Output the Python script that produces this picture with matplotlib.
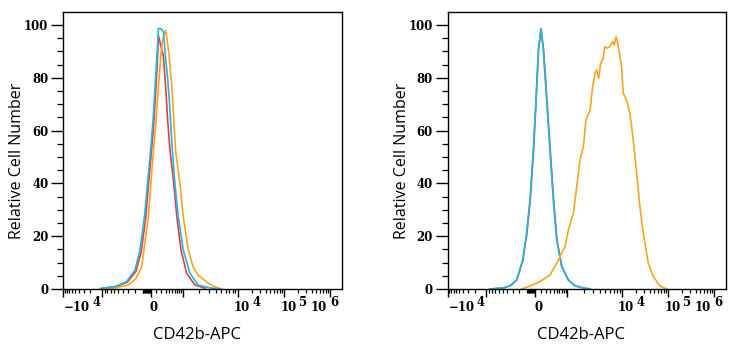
import matplotlib
matplotlib.use('Agg')
import matplotlib.pyplot as plt
import numpy as np

# histogram traces, x in display channels (0-1000 on the biexponential axis), y in % of max
left_red_x = [143, 190, 231, 262, 280, 296, 306, 317, 326, 333, 339, 342, 351, 360, 368, 375, 384, 397, 408, 423, 443, 473, 509]
left_red_y = [0.3, 0.9, 2.6, 6.8, 14, 26.5, 39, 52, 63.5, 76, 88, 96, 92, 88, 76.6, 64, 52, 40, 27.4, 14.8, 6, 1.5, 0.3]
left_cyan_x = [139, 186, 228, 258, 276, 292, 303, 314, 323, 330, 337, 342, 351, 360, 367, 375, 382, 387, 392, 401, 413, 431, 455, 484, 527, 563]
left_cyan_y = [0.3, 0.9, 2.8, 7.2, 14.8, 27.4, 40, 52.6, 64, 76.6, 89, 98.7, 98.5, 97.5, 88, 80, 70, 61, 52.6, 40, 27.4, 14.8, 6, 1.5, 0.4, 0]
left_orange_x = [133, 186, 234, 262, 282, 306, 315, 324, 334, 342, 351, 358, 368, 380, 390, 397, 404, 419, 431, 449, 466, 484, 520, 545, 570]
left_orange_y = [0.2, 0.4, 1.5, 4, 8.4, 27.4, 40, 52, 64, 76.6, 89, 95, 98, 89, 76.6, 64, 52, 40, 27.4, 14.8, 8.4, 5.3, 2.2, 0.8, 0]

right_red_x = [153, 201, 225, 249, 271, 285, 297, 309, 318, 327, 336, 345, 357, 369, 381, 393, 411, 434, 458, 488, 512]
right_red_y = [0, 0.4, 1.2, 3.4, 11, 21, 33.5, 52.5, 71.5, 90.5, 98.5, 90.5, 71.5, 52.5, 33.5, 18.5, 8.4, 3.4, 1.2, 0.4, 0]
right_cyan_x = [153, 200, 224, 248, 270, 284, 296, 308, 318, 326, 336, 344, 356, 368, 380, 392, 410, 434, 458, 488, 512]
right_cyan_y = [0, 0.4, 1.2, 3.4, 11, 21.2, 33.7, 52.6, 71.6, 90.5, 98.7, 90.5, 71.6, 52.6, 33.7, 18.6, 8.4, 3.4, 1.2, 0.4, 0]
right_orange_x = [266, 296, 332, 368, 392, 410, 422, 434, 452, 464, 476, 488, 497, 512, 521, 530, 536, 543, 550, 559,
                  565, 574, 583, 593, 599, 605, 610, 617, 625, 631, 643, 655, 667, 679, 691, 703, 721, 739, 763, 787]
right_orange_y = [0, 1.1, 2.8, 5.3, 9.7, 13.5, 16, 22.3, 28.7, 38.7, 48.9, 53.9, 64, 67.8, 76.6, 81.7, 83, 79.8, 85.5, 87.4,
                  91.8, 91.2, 91.8, 93.7, 92.4, 95.6, 93.7, 89.3, 84.2, 74.1, 71.6, 66.5, 56.4, 43.8, 31.2, 21.1, 9.7, 4.7, 1.1, 0]

y_ticks = [0, 20, 40, 60, 80, 100]
x_tick_values = [-1e4, 0, 1e4, 1e5, 1e6]
x_tick_bases = ['\u221210', '0', '10', '10', '10']
x_tick_exps = ['4', '', '4', '5', '6']
# horizontal shift (pixels) of base / exponent from each tick
base_dx = [-25, 3, 4, 5, -11]
exp_dx = [-5.5, 0, 19, 19, 4]

# where the decades sit on the display axis
DEC_VALUES = np.array([-1e5, -1e4, 0, 1e3, 1e4, 1e5, 1e6])
DEC_CHANNELS = np.array([0, 140, 315, 430, 627, 792, 957])

RED = '#ee3b3b'
CYAN = '#1cb8e8'
ORANGE = '#ffa31a'
PX = 0.72  # points per pixel at 100 dpi


def squash(v):
    v = np.asarray(v, dtype=float)
    return np.where(v < 0, np.arcsinh(v / 3000.0), np.arcsinh(v / 300.0))


def to_channel(v):
    return np.interp(squash(v), squash(DEC_VALUES), DEC_CHANNELS)


def minor_values():
    vals = []
    for n in range(2, 6):
        for k in range(1, 10):
            v = k * 10.0**n
            if v <= 1e6:
                vals.append(v)
            if v < 1e5:
                vals.append(-v)
    return [v for v in vals if v not in (-1e4, 1e4, 1e5, 1e6, 1e3, -1e5)]


fig = plt.figure(figsize=(7.38, 3.5), dpi=100)
ax1 = fig.add_axes([63 / 738, 61 / 350, 279 / 738, 277 / 350])
ax2 = fig.add_axes([447.5 / 738, 61 / 350, 278.5 / 738, 277 / 350])

ax1.plot(left_red_x, left_red_y, color=RED, lw=1.2)
ax1.plot(left_orange_x, left_orange_y, color=ORANGE, lw=1.2)
ax1.plot(left_cyan_x, left_cyan_y, color=CYAN, lw=1.2)
ax2.plot(right_red_x, right_red_y, color=RED, lw=1.2)
ax2.plot(right_cyan_x, right_cyan_y, color=CYAN, lw=1.2)
ax2.plot(right_orange_x, right_orange_y, color=ORANGE, lw=1.2)

for ax in (ax1, ax2):
    ax.set_xlim(0, 1000)
    ax.set_ylim(0, 104.9)
    for s in ax.spines.values():
        s.set_linewidth(1.0)
    ax.set_yticks(y_ticks)
    ax.set_yticks(np.arange(0, 105, 5), minor=True)
    ax.set_yticklabels([str(t) for t in y_ticks], family='DejaVu Serif', weight='bold', fontsize=8.5)
    ax.tick_params(axis='y', which='major', length=9, width=1.0, pad=1.5)
    ax.tick_params(axis='y', which='minor', length=4, width=0.9)

    ax.set_xticks(to_channel([-1e5, 1e3] + x_tick_values))
    ax.set_xticklabels([])
    ax.set_xticks(to_channel(minor_values()), minor=True)
    ax.tick_params(axis='x', which='major', length=5.5, width=1.0)
    ax.tick_params(axis='x', which='minor', length=3, width=0.9)

    # decade labels with full-height exponents
    for ch, base, exp, bdx, edx in zip(to_channel(x_tick_values), x_tick_bases, x_tick_exps, base_dx, exp_dx):
        ax.annotate(base, xy=(ch, 0), xycoords=('data', 'axes fraction'),
                    xytext=(bdx * PX, -12 * PX), textcoords='offset points',
                    ha='center', va='top', family='DejaVu Serif', weight='bold', fontsize=8.5)
        if exp:
            ax.annotate(exp, xy=(ch, 0), xycoords=('data', 'axes fraction'),
                        xytext=(edx * PX, -7 * PX), textcoords='offset points',
                        ha='center', va='top', family='DejaVu Serif', weight='bold', fontsize=8.5)

    ax.set_xlabel('CD42b-APC', family='Open Sans', fontsize=12, va='center')
    ax.set_ylabel('Relative Cell Number', family='Open Sans', fontsize=11.5, va='center')
    ax.xaxis.set_label_coords(0.48, -0.166)

ax1.yaxis.set_label_coords(-0.165, 0.462)
ax2.yaxis.set_label_coords(-0.163, 0.462)

fig.savefig('out.png', dpi=100)
